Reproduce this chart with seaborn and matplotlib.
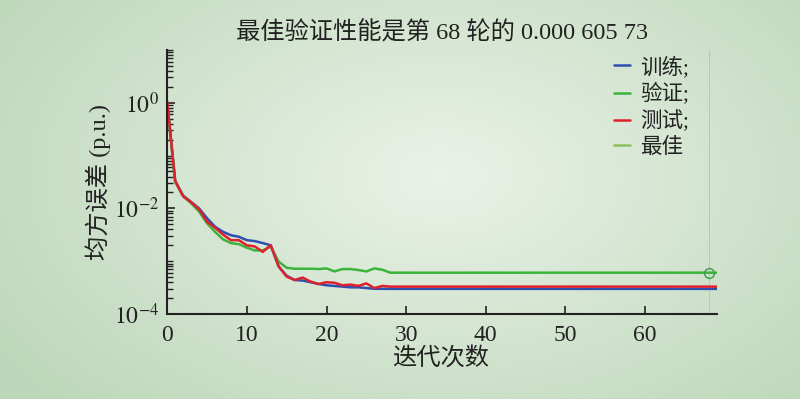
import numpy as np
import pandas as pd
import matplotlib
matplotlib.use('Agg')
import matplotlib.pyplot as plt
import seaborn as sns
from matplotlib.lines import Line2D
from matplotlib.ticker import LogLocator, NullFormatter

# training record (70 epochs, 0..69)
epochs = list(range(70))
train = [1.0, 0.033, 0.0175, 0.0132, 0.0100, 0.0065, 0.0045, 0.0036, 0.0031, 0.0029,
         0.0025, 0.0024, 0.0022, 0.0020, 0.00079, 0.00053, 0.00044, 0.00043, 0.00040, 0.00037,
         0.00035, 0.00034, 0.00033, 0.00032, 0.00032, 0.00031, 0.00030, 0.00030, 0.000299, 0.000299,
         0.000299, 0.000299, 0.000299, 0.000299, 0.000299, 0.000299, 0.000299, 0.000299, 0.000299, 0.000299,
         0.000299, 0.000299, 0.000299, 0.000299, 0.000299, 0.000299, 0.000299, 0.000299, 0.000299, 0.000299,
         0.000299, 0.000299, 0.000299, 0.000299, 0.000299, 0.000299, 0.000299, 0.000299, 0.000299, 0.000299,
         0.000299, 0.000299, 0.000299, 0.000299, 0.000299, 0.000299, 0.000299, 0.000299, 0.000299, 0.000299]
val = [1.0, 0.032, 0.017, 0.0125, 0.0087, 0.0052, 0.0036, 0.0026, 0.0022, 0.0021,
       0.0018, 0.0016, 0.0016, 0.0019, 0.00098, 0.00075, 0.00072, 0.00072, 0.00072, 0.00071,
       0.00073, 0.00064, 0.00071, 0.00071, 0.00068, 0.00064, 0.00073, 0.00069, 0.00060573, 0.00060573,
       0.00060573, 0.00060573, 0.00060573, 0.00060573, 0.00060573, 0.00060573, 0.00060573, 0.00060573, 0.00060573, 0.00060573,
       0.00060573, 0.00060573, 0.00060573, 0.00060573, 0.00060573, 0.00060573, 0.00060573, 0.00060573, 0.00060573, 0.00060573,
       0.00060573, 0.00060573, 0.00060573, 0.00060573, 0.00060573, 0.00060573, 0.00060573, 0.00060573, 0.00060573, 0.00060573,
       0.00060573, 0.00060573, 0.00060573, 0.00060573, 0.00060573, 0.00060573, 0.00060573, 0.00060573, 0.00060573, 0.00060573]
test = [1.05, 0.033, 0.0169, 0.013, 0.0096, 0.0056, 0.0043, 0.0032, 0.0025, 0.0025,
        0.0020, 0.0019, 0.0015, 0.0020, 0.00079, 0.00051, 0.00044, 0.00049, 0.00041, 0.00037,
        0.00040, 0.00039, 0.00035, 0.00036, 0.00034, 0.00038, 0.00031, 0.00034, 0.00033, 0.00033,
        0.00033, 0.00033, 0.00033, 0.00033, 0.00033, 0.00033, 0.00033, 0.00033, 0.00033, 0.00033,
        0.00033, 0.00033, 0.00033, 0.00033, 0.00033, 0.00033, 0.00033, 0.00033, 0.00033, 0.00033,
        0.00033, 0.00033, 0.00033, 0.00033, 0.00033, 0.00033, 0.00033, 0.00033, 0.00033, 0.00033,
        0.00033, 0.00033, 0.00033, 0.00033, 0.00033, 0.00033, 0.00033, 0.00033, 0.00033, 0.00033]
best_epoch = 68
best_perf = 0.00060573

set_names = ['训练', '验证', '测试']
legend_labels = ['训练;', '验证;', '测试;', '最佳']
colors = {'训练': '#2c4fb0', '验证': '#3cb43c', '测试': '#e0202a'}
best_color = '#8cc060'

sns.set_style('ticks')
plt.rcParams['font.family'] = ['Liberation Serif', 'Noto Sans CJK SC']
plt.rcParams['mathtext.fontset'] = 'stix'

fig = plt.figure(figsize=(8, 3.99), dpi=100)

# radial green background
bg = fig.add_axes([0, 0, 1, 1], zorder=-10)
yy, xx = np.mgrid[0:399, 0:800]
r = np.sqrt(((xx - 440) / 520.0) ** 2 + ((yy - 175) / 320.0) ** 2)
r = np.clip(r, 0, 1)[..., None]
c_in = np.array([0.92, 0.95, 0.91])
c_out = np.array([0.745, 0.847, 0.73])
bg.imshow(c_in + (c_out - c_in) * r, aspect='auto', extent=[0, 1, 0, 1])
bg.axis('off')

ax = fig.add_axes([0.209, 0.213, 0.687, 0.662])
ax.set_facecolor('none')

df = pd.DataFrame({
    'epoch': epochs * 3,
    'mse': train + val + test,
    'set': [set_names[0]] * 70 + [set_names[1]] * 70 + [set_names[2]] * 70,
})
sns.lineplot(data=df, x='epoch', y='mse', hue='set', hue_order=set_names,
             palette=colors, linewidth=1.8, ax=ax, legend=False)

ax.axvline(best_epoch, color='#9ab890', lw=0.6, alpha=0.6, zorder=0)
ax.plot([best_epoch], [best_perf], 'o', ms=7, mfc='none', mec='#3a9a4a', mew=1.0)

ax.set_yscale('log')
ax.set_xlim(0, 69)
ax.set_ylim(1e-4, 10)
ax.set_xticks(range(0, 70, 10))
ax.set_yticks([1e-4, 1e-2, 1e0])
ax.set_yticklabels(['$10^{-4}$', '$10^{-2}$', '$10^{0}$'])
ax.yaxis.set_minor_locator(LogLocator(base=10, subs=np.arange(1, 10), numticks=30))
ax.yaxis.set_minor_formatter(NullFormatter())
ax.tick_params(which='major', direction='in', length=6, width=1.2, labelsize=17,
               colors='#222222')
ax.tick_params(axis='x', pad=8)
ax.tick_params(axis='y', pad=6)
ax.tick_params(which='minor', direction='in', length=4, width=1.0, colors='#222222')
ax.set_xlabel('')
ax.set_ylabel('')
for s in ['top', 'right']:
    ax.spines[s].set_visible(False)
for s in ['left', 'bottom']:
    ax.spines[s].set_linewidth(1.5)
    ax.spines[s].set_color('#222222')

fig.text(0.552, 0.917, '最佳验证性能是第 68 轮的 0.000 605 73', ha='center', va='center',
         fontsize=17.5, color='#222222')
fig.text(0.551, 0.099, '迭代次数', ha='center', va='center', fontsize=17.5, color='#222222')
fig.text(0.123, 0.545, '均方误差 (p.u.)', ha='center', va='center', rotation=90,
         fontsize=17.5, color='#222222')

handles = [Line2D([], [], color=colors['训练'], lw=1.8),
           Line2D([], [], color=colors['验证'], lw=1.8),
           Line2D([], [], color=colors['测试'], lw=1.8),
           Line2D([], [], color=best_color, lw=1.8)]
ax.legend(handles, legend_labels, loc='upper left', bbox_to_anchor=(0.767, 0.86),
          bbox_transform=fig.transFigure, frameon=False, fontsize=15.5,
          handlelength=0.75, handletextpad=0.5, labelspacing=0.25,
          borderpad=0, borderaxespad=0, labelcolor='#222222')

fig.savefig('out.png', dpi=100)
